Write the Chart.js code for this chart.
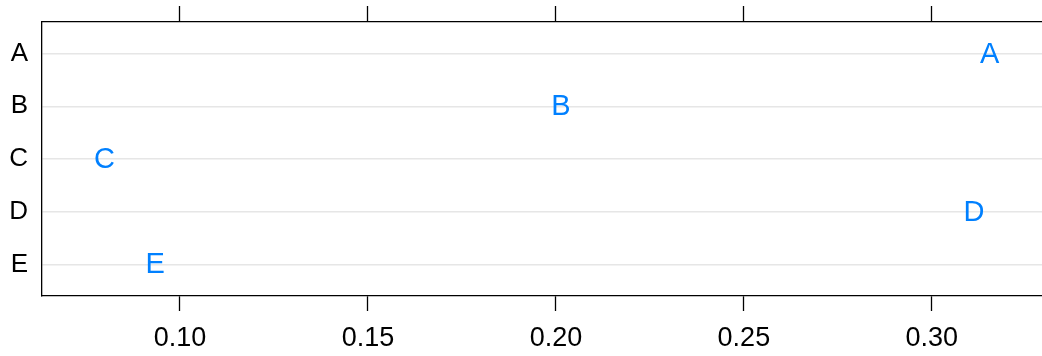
<!DOCTYPE html>
<html>
<head>
<meta charset="utf-8">
<script src="https://cdn.jsdelivr.net/npm/chart.js@4/dist/chart.umd.min.js"></script>
<style>
  html, body { margin: 0; padding: 0; background: #fff; }
</style>
</head>
<body>
<canvas id="dotChart" width="1042" height="356"></canvas>
<script>
// data
const categories = ['A', 'B', 'C', 'D', 'E'];
const values = [0.3154, 0.2013, 0.0799, 0.3112, 0.0934];
const xTicks = [0.10, 0.15, 0.20, 0.25, 0.30];
const xMin = 0.0633;
const xMax = 0.3293;

const FONT = '"Liberation Sans", Arial, sans-serif';

// draw each category name as the point marker
const textPoints = {
    id: 'textPoints',
    afterDatasetsDraw(chart) {
        const ctx = chart.ctx;
        const meta = chart.getDatasetMeta(0);
        ctx.save();
        ctx.fillStyle = '#0080ff';
        ctx.font = '29px ' + FONT;
        ctx.textAlign = 'center';
        ctx.textBaseline = 'middle';
        meta.data.forEach((pt, i) => {
            ctx.fillText(categories[i], pt.x, pt.y + 1);
        });
        ctx.restore();
    }
};

function setXTicks(scale) {
    scale.ticks = xTicks.map(v => ({ value: v }));
}

const ctx = document.getElementById('dotChart').getContext('2d');
new Chart(ctx, {
    type: 'scatter',
    data: {
        datasets: [{
            data: values.map((v, i) => ({ x: v, y: i + 1 })),
            pointRadius: 0,
            pointHoverRadius: 0
        }]
    },
    options: {
        responsive: false,
        animation: false,
        layout: { padding: 0 },
        plugins: {
            legend: { display: false },
            tooltip: { enabled: false }
        },
        scales: {
            x: {
                type: 'linear',
                position: 'bottom',
                min: xMin,
                max: xMax,
                afterBuildTicks: setXTicks,
                afterFit: s => { s.height = 60; s.paddingLeft = 0; s.paddingRight = 0; },
                grid: {
                    drawOnChartArea: false,
                    drawTicks: true,
                    tickLength: 15,
                    tickColor: '#000',
                    tickWidth: 1.3
                },
                border: { color: '#000', width: 1.3 },
                ticks: {
                    color: '#000',
                    font: { family: FONT, size: 27 },
                    padding: 11,
                    maxRotation: 0,
                    autoSkip: false,
                    callback: v => v.toFixed(2)
                }
            },
            xTop: {
                type: 'linear',
                axis: 'x',
                position: 'top',
                min: xMin,
                max: xMax,
                afterBuildTicks: setXTicks,
                afterFit: s => { s.height = 22; s.paddingLeft = 0; s.paddingRight = 0; },
                grid: {
                    drawOnChartArea: false,
                    drawTicks: true,
                    tickLength: 16,
                    tickColor: '#000',
                    tickWidth: 1.3
                },
                border: { color: '#000', width: 1.3 },
                ticks: {
                    autoSkip: false,
                    padding: 0,
                    callback: () => ''
                }
            },
            y: {
                type: 'linear',
                reverse: true,
                min: 0.4,
                max: 5.6,
                afterBuildTicks: s => {
                    s.ticks = categories.map((c, i) => ({ value: i + 1 }));
                },
                afterFit: s => { s.width = 42; s.paddingTop = 0; s.paddingBottom = 0; },
                grid: {
                    color: '#e6e6e6',
                    lineWidth: 1.5,
                    drawTicks: false
                },
                border: { color: '#000', width: 1.3 },
                ticks: {
                    color: '#000',
                    font: { family: FONT, size: 26 },
                    padding: 14,
                    autoSkip: false,
                    callback: (v, i) => categories[i]
                }
            }
        }
    },
    plugins: [textPoints]
});
</script>
</body>
</html>
